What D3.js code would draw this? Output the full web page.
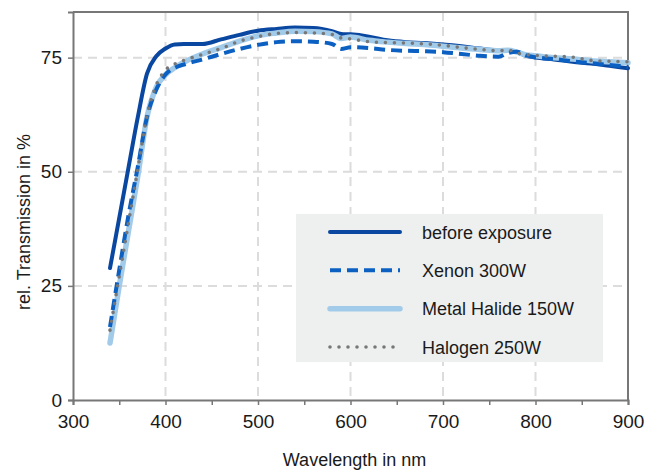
<!DOCTYPE html>
<html>
<head>
<meta charset="utf-8">
<script src="https://cdn.jsdelivr.net/npm/d3@7"></script>
<style>
  html, body { margin: 0; padding: 0; background: #ffffff; }
  svg { display: block; font-family: "Liberation Sans", Arial, sans-serif; }
</style>
</head>
<body>
<svg id="chart" width="648" height="470"></svg>
<script>
// Wavelength grid (nm) shared by all measured series
const wavelengths = [340, 350, 360, 370, 380, 390, 400, 410, 420, 440, 460, 480, 500, 520, 540, 560, 580, 590, 600,
  620, 640, 660, 680, 700, 720, 740, 760, 770, 780, 790, 800, 820, 840, 860, 880, 900];

// Relative transmission (%) per exposure condition
const beforeExposure = [28.9, 39.9, 50.9, 61.9, 71.5, 75.3, 77.0, 77.9, 78.0, 78.0, 79.0, 80.0, 80.9, 81.3, 81.6, 81.5, 80.8, 80.2, 80.1,
  79.6, 78.8, 78.4, 78.2, 77.9, 77.5, 77.0, 76.6, 76.6, 76.2, 75.4, 75.0, 74.6, 74.1, 73.7, 73.2, 72.7];
const xenon300 = [16.0, 28.5, 40.5, 51.0, 62.0, 68.0, 71.3, 72.8, 73.5, 74.6, 75.8, 76.9, 77.8, 78.4, 78.6, 78.5, 78.0, 76.9, 77.3,
  77.1, 76.7, 76.5, 76.4, 76.2, 75.8, 75.4, 75.2, 76.0, 76.3, 75.5, 75.1, 74.7, 74.2, 73.8, 73.4, 73.0];
const metalHalide150 = [12.5, 25.0, 37.0, 49.0, 62.0, 68.5, 71.3, 72.8, 74.0, 75.8, 77.2, 78.6, 79.8, 80.4, 80.8, 80.7, 80.2, 79.2, 79.5,
  78.8, 78.4, 78.1, 77.9, 77.5, 77.1, 76.8, 76.5, 76.6, 76.2, 75.6, 75.4, 75.0, 74.7, 74.3, 74.1, 73.9];
const halogen250 = [15.3, 27.1, 38.8, 50.5, 62.2, 69.0, 72.3, 73.6, 74.4, 75.7, 77.0, 78.6, 79.6, 80.3, 80.5, 80.4, 80.1, 79.3, 79.1,
  78.5, 78.3, 78.2, 78.0, 77.7, 77.2, 76.8, 76.5, 76.7, 76.0, 75.7, 75.5, 75.3, 75.1, 74.4, 74.2, 74.1];

const seriesNames = ["before exposure", "Xenon 300W", "Metal Halide 150W", "Halogen 250W"];
const xTicks = [300, 400, 500, 600, 700, 800, 900];
const xMinorTicks = [350, 450, 550, 650, 750, 850];
const yTicks = [0, 25, 50, 75];

const styles = {
  "before exposure":   { color: "#0a47a0", width: 4,   dash: null,   cap: "round" },
  "Xenon 300W":        { color: "#0b60c2", width: 4,   dash: "11,6", cap: "butt" },
  "Metal Halide 150W": { color: "#a2cbea", width: 5.5, dash: null,   cap: "round" },
  "Halogen 250W":      { color: "#777777", width: 3.6, dash: "0,9",  cap: "round" }
};

const series = [
  { name: seriesNames[0], values: beforeExposure },
  { name: seriesNames[2], values: metalHalide150 },
  { name: seriesNames[1], values: xenon300 },
  { name: seriesNames[3], values: halogen250 }
];

const W = 648, H = 470;
const margin = { top: 12, right: 20, bottom: 70, left: 73 };
const iw = W - margin.left - margin.right;
const ih = H - margin.top - margin.bottom;

const svg = d3.select("#chart");
const g = svg.append("g").attr("transform", `translate(${margin.left},${margin.top})`);

const x = d3.scaleLinear().domain([300, 900]).range([0, iw]);
const y = d3.scaleLinear().domain([0, 85]).range([ih, 0]);

const gridColor = "#dcdcdc";
const frameColor = "#777777";
const textColor = "#1a1a1a";

// dashed grid
g.append("g").selectAll("line.vg")
  .data(xTicks.filter(v => v > 300 && v < 900))
  .join("line")
  .attr("x1", d => x(d)).attr("x2", d => x(d))
  .attr("y1", 0).attr("y2", ih)
  .attr("stroke", gridColor).attr("stroke-width", 2).attr("stroke-dasharray", "9,6");
g.append("g").selectAll("line.hg")
  .data(yTicks.filter(v => v > 0))
  .join("line")
  .attr("x1", 0).attr("x2", iw)
  .attr("y1", d => y(d)).attr("y2", d => y(d))
  .attr("stroke", gridColor).attr("stroke-width", 2).attr("stroke-dasharray", "9,6");

// frame (top and right edges)
g.append("path")
  .attr("d", `M0,0H${iw}V${ih}`)
  .attr("fill", "none").attr("stroke", frameColor).attr("stroke-width", 2);

// series lines
const line = d3.line()
  .x((d, i) => x(wavelengths[i]))
  .y(d => y(d))
  .curve(d3.curveMonotoneX);

g.append("g").selectAll("path.series")
  .data(series)
  .join("path")
  .attr("d", d => line(d.values))
  .attr("fill", "none")
  .attr("stroke", d => styles[d.name].color)
  .attr("stroke-width", d => styles[d.name].width)
  .attr("stroke-dasharray", d => styles[d.name].dash)
  .attr("stroke-linecap", d => styles[d.name].cap)
  .attr("stroke-linejoin", "round");

// axes
const xAxis = g.append("g").attr("transform", `translate(0,${ih})`)
  .call(d3.axisBottom(x).tickValues(xTicks).tickFormat(d3.format("d")).tickSize(5).tickPadding(10));
const xMinor = g.append("g").attr("transform", `translate(0,${ih})`)
  .call(d3.axisBottom(x).tickValues(xMinorTicks).tickFormat("").tickSize(5));
const yAxis = g.append("g")
  .call(d3.axisLeft(y).tickValues(yTicks).tickFormat(d3.format("d")).tickSize(5).tickPadding(6));

[xAxis, xMinor, yAxis].forEach(a => {
  a.select(".domain").attr("stroke", frameColor).attr("stroke-width", 2);
  a.selectAll(".tick line").attr("stroke", frameColor).attr("stroke-width", 1.5);
  a.selectAll(".tick text").attr("fill", textColor).attr("font-size", 19)
    .attr("font-family", "'Liberation Sans', Arial, sans-serif");
});
xMinor.select(".domain").remove();

// axis titles
svg.append("text")
  .attr("x", margin.left + iw / 2 + 4).attr("y", 466)
  .attr("text-anchor", "middle").attr("font-size", 18).attr("fill", textColor)
  .text("Wavelength in nm");
svg.append("text")
  .attr("transform", `translate(30,${222}) rotate(-90)`)
  .attr("text-anchor", "middle").attr("font-size", 18).attr("fill", textColor)
  .text("rel. Transmission in %");

// legend
const legend = svg.append("g").attr("transform", "translate(296,214)");
legend.append("rect").attr("width", 307).attr("height", 148).attr("fill", "#eef0f0");
const legendOrder = seriesNames;
const rowY = d3.scalePoint().domain(legendOrder).range([18, 133]);
const items = legend.selectAll("g.item").data(legendOrder).join("g")
  .attr("transform", d => `translate(0,${rowY(d)})`);
items.append("line")
  .attr("x1", 34).attr("x2", 104)
  .attr("stroke", d => styles[d].color)
  .attr("stroke-width", d => styles[d].width)
  .attr("stroke-dasharray", d => styles[d].dash)
  .attr("stroke-linecap", d => styles[d].cap);
items.append("text")
  .attr("x", 126).attr("y", 6.5)
  .attr("font-size", 18).attr("fill", textColor)
  .text(d => d);
</script>
</body>
</html>
